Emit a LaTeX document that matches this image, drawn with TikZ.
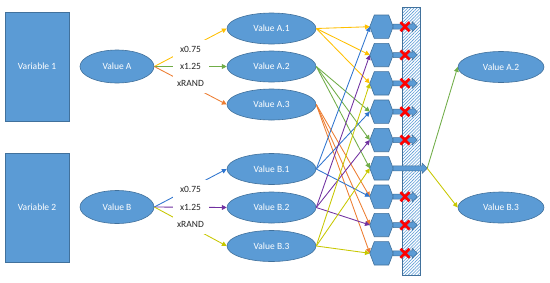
\documentclass[tikz,border=0pt]{standalone}
\usepackage{fontspec}
\setmainfont{Carlito}
\usetikzlibrary{shapes.geometric,arrows.meta,patterns.meta,calc}
\definecolor{boxfill}{HTML}{5B9BD5}
\definecolor{boxline}{HTML}{41719C}
\definecolor{cyel}{HTML}{FFC000}
\definecolor{cgrn}{HTML}{70AD47}
\definecolor{corg}{HTML}{ED7D31}
\definecolor{cblu}{HTML}{2F75CF}
\definecolor{cpur}{HTML}{7030A0}
\definecolor{cyg}{HTML}{C8C800}
\definecolor{cred}{HTML}{FF0000}
\begin{document}
\begin{tikzpicture}[x=1pt,y=-1pt,
  every node/.style={font=\fontsize{9.5}{11}\selectfont},
  varbox/.style={draw=boxline,fill=boxfill,line width=0.6pt,text=white,minimum width=64,minimum height=109,inner sep=0},
  valell/.style={ellipse,draw=boxline,fill=boxfill,line width=0.6pt,text=white,inner sep=0},
  hexslot/.style={minimum width=23,minimum height=23,inner sep=0},
  hexshape/.style={draw=boxline,fill=boxfill,line width=0.6pt},
  blockarr/.style={draw=boxline,fill=boxfill,line width=0.5pt},
  barrier/.style={draw=boxline,line width=0.6pt,pattern={Lines[angle=45,distance=2.2pt,line width=0.6pt]},pattern color=boxfill,minimum width=18,minimum height=268,inner sep=0},
  conn/.style={line width=0.85pt,-{Triangle[length=4.8pt,width=4.8pt]}},
  lbl/.style={fill=white,text=black!85,inner sep=0,minimum width=36,minimum height=19},
  cross/.style={cred,line width=2.6pt}
]
\useasboundingbox[fill=white] (0,0) rectangle (550,282);

% left column
\node[varbox] (var1) at (37,66.5) {Variable 1};
\node[varbox] (var2) at (37,207.5) {Variable 2};
\node[valell,minimum width=74,minimum height=33] (valA) at (117,66.5) {Value A};
\node[valell,minimum width=74,minimum height=33] (valB) at (117,207) {Value B};

% middle values
\node[valell,minimum width=89,minimum height=31] (A1) at (271.5,28.5) {Value A.1};
\node[valell,minimum width=89,minimum height=31] (A2) at (271.5,66.5) {Value A.2};
\node[valell,minimum width=89,minimum height=31] (A3) at (271.5,104.5) {Value A.3};
\node[valell,minimum width=89,minimum height=31] (B1) at (271.5,169) {Value B.1};
\node[valell,minimum width=89,minimum height=31] (B2) at (271.5,207.5) {Value B.2};
\node[valell,minimum width=89,minimum height=31] (B3) at (271.5,246) {Value B.3};

% outputs
\node[valell,minimum width=86,minimum height=31] (outA) at (501,67) {Value A.2};
\node[valell,minimum width=86,minimum height=31] (outB) at (501,207.5) {Value B.3};

% hexagon slots
\foreach \k/\yy in {1/26.7,2/55,3/83.3,4/111.7,5/140,6/168.3,7/196.7,8/225,9/253.3}
  \node[hexslot] (h\k) at (381.5,\yy) {};

% first layer connectors
\draw[conn,cyel] (valA.east) -- node[lbl,yshift=-1.5pt]{x0.75} (A1.west);
\draw[conn,cgrn] (valA.east) -- node[lbl]{x1.25} (A2.west);
\draw[conn,corg] (valA.east) -- node[lbl,yshift=2.5pt]{xRAND} (A3.west);
\draw[conn,cblu] (valB.east) -- node[lbl,yshift=-1.5pt]{x0.75} (B1.west);
\draw[conn,cpur] (valB.east) -- node[lbl]{x1.25} (B2.west);
\draw[conn,cyg] (valB.east) -- node[lbl,yshift=2.5pt]{xRAND} (B3.west);

% second layer connectors
\foreach \k in {1,2,3} \draw[conn,cyel] (A1.east) -- (h\k.west);
\foreach \k in {4,5,6} \draw[conn,cgrn] (A2.east) -- (h\k.west);
\foreach \k in {7,8,9} \draw[conn,corg] (A3.east) -- (h\k.west);
\foreach \k in {1,4,7} \draw[conn,cblu] (B1.east) -- (h\k.west);
\foreach \k in {2,5,8} \draw[conn,cpur] (B2.east) -- (h\k.west);
\foreach \k in {3,6,9} \draw[conn,cyg] (B3.east) -- (h\k.west);

% barrier
\node[barrier] (wall) at (411,141) {};

% hexagons
\foreach \k in {1,...,9}
  \filldraw[hexshape] (h\k.west) -- ([xshift=4.5pt]h\k.north west) -- ([xshift=-4.5pt]h\k.north east)
    -- (h\k.east) -- ([xshift=-4.5pt]h\k.south east) -- ([xshift=4.5pt]h\k.south west) -- cycle;

% block arrows
\foreach \k in {1,2,3,4,5,7,8,9}
  \filldraw[blockarr] (h\k.east) ++(0,-2.5) -- ++(19,0) -- ++(0,-2.5) -- ++(5,5) -- ++(-5,5) -- ++(0,-2.5) -- ++(-19,0) -- cycle;
\filldraw[blockarr] (h6.east) ++(0,-2.5) -- ++(29,0) -- ++(0,-2.5) -- ++(5,5) -- ++(-5,5) -- ++(0,-2.5) -- ++(-29,0) -- cycle;
\coordinate (pass) at ([xshift=34pt]h6.east);

% red crosses
\foreach \k in {1,2,3,4,5,7,8,9}
  \draw[cross] ($(h\k)+(19,-4.5)$) -- ++(9,9) ($(h\k)+(19,4.5)$) -- ++(9,-9);

% outputs
\draw[conn,cgrn] (pass) -- (outA.west);
\draw[conn,cyg] (pass) -- (outB.west);
\end{tikzpicture}
\end{document}
